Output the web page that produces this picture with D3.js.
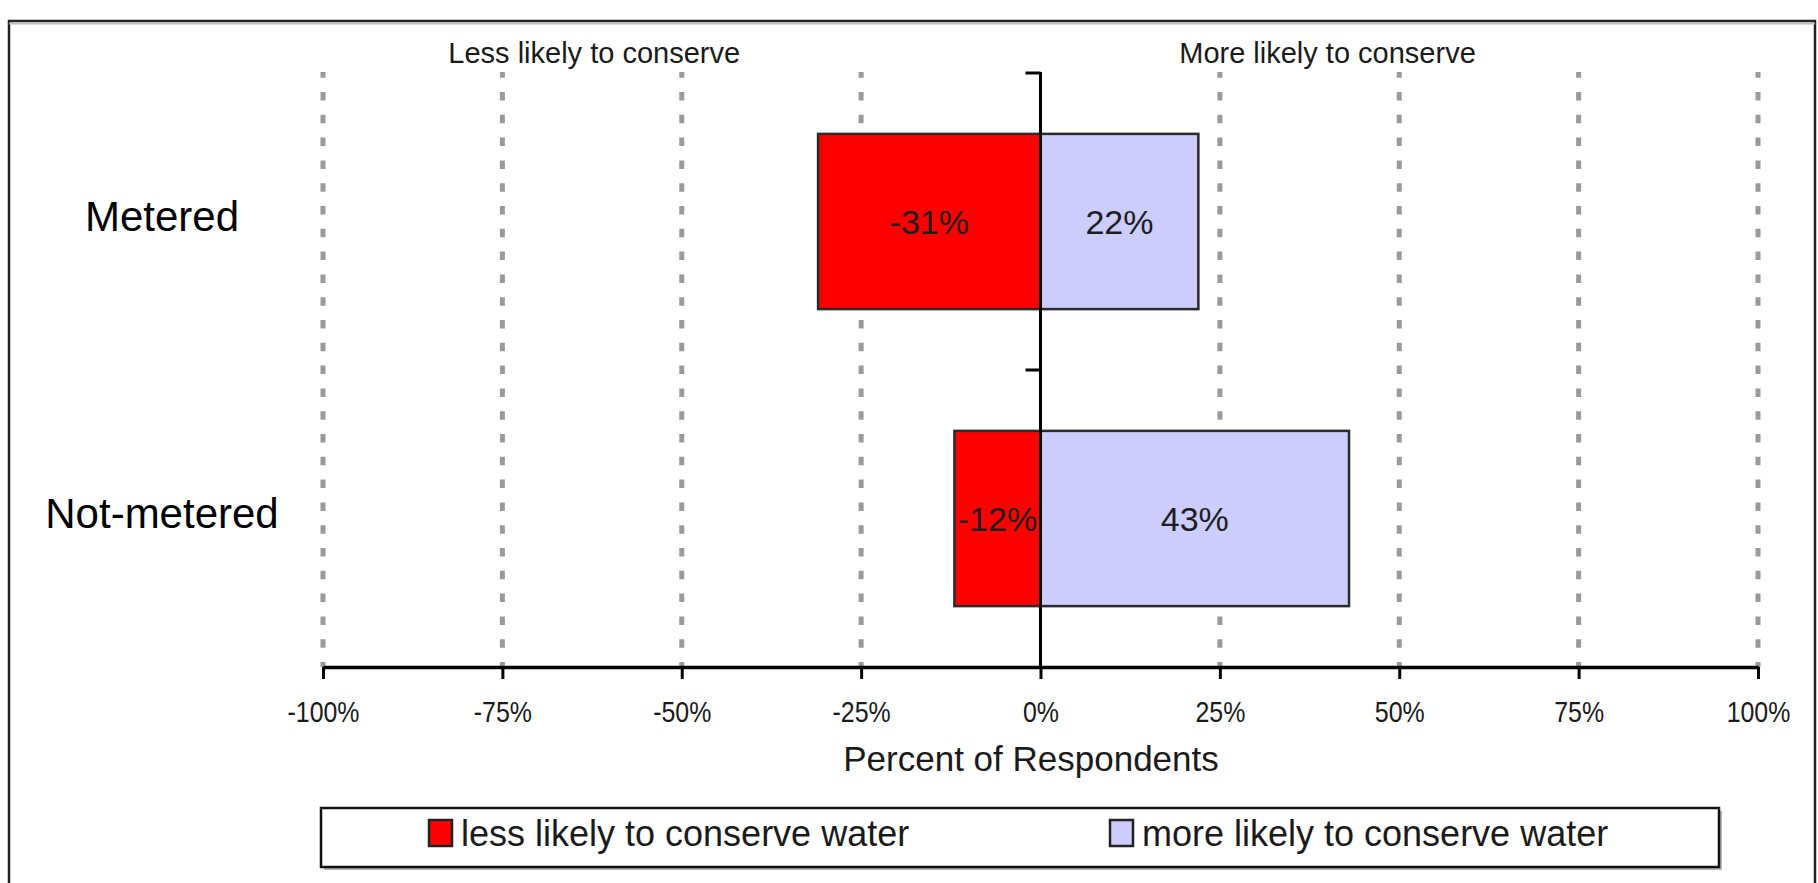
<!DOCTYPE html>
<html>
<head>
<meta charset="utf-8">
<script src="https://cdn.jsdelivr.net/npm/d3@7/dist/d3.min.js"></script>
<style>
  html, body { margin: 0; padding: 0; background: #fff; }
  svg { display: block; }
  .sans { font-family: "Liberation Sans", Arial, Helvetica, sans-serif; }
</style>
</head>
<body>
<svg id="chart" width="1818" height="883"></svg>
<script>
// Survey groups and the share of respondents on each side of the scale
const categories = ["Metered", "Not-metered"];
const lessLikely = [-31, -12];
const moreLikely = [22, 43];
const xTicks = [-100, -75, -50, -25, 0, 25, 50, 75, 100];
const seriesNames = ["less likely to conserve water", "more likely to conserve water"];
const sideHeaders = ["Less likely to conserve", "More likely to conserve"];
const axisTitle = "Percent of Respondents";

const colors = { less: "#ff0000", more: "#ccccff" };

const svg = d3.select("#chart");

// Outer frame
svg.append("rect")
  .attr("x", 9).attr("y", 21)
  .attr("width", 1806).attr("height", 900)
  .attr("fill", "none")
  .attr("stroke", "#222")
  .attr("stroke-width", 2.5);
svg.append("line")
  .attr("x1", 9).attr("x2", 1815).attr("y1", 23.5).attr("y2", 23.5)
  .attr("stroke", "#bbb").attr("stroke-width", 2);

const x = d3.scaleLinear().domain([-100, 100]).range([323, 1758]);
const y = d3.scaleBand()
  .domain(categories)
  .range([73, 667])
  .paddingInner(0.41)
  .paddingOuter(0.205);

const plotTop = 72, plotBottom = 667;

// Dotted vertical gridlines
svg.append("g")
  .selectAll("line")
  .data(xTicks.filter(d => d !== 0))
  .join("line")
  .attr("x1", d => x(d)).attr("x2", d => x(d))
  .attr("y1", plotTop).attr("y2", plotBottom)
  .attr("stroke", "#9a9a9a")
  .attr("stroke-width", 5)
  .attr("stroke-dasharray", "8.5 14.3")
  .attr("stroke-dashoffset", 2.8);

// Side headers above the plot
svg.append("g")
  .selectAll("text")
  .data(sideHeaders)
  .join("text")
  .attr("class", "sans")
  .attr("x", (d, i) => x(i === 0 ? -62.2 : 40))
  .attr("y", 63)
  .attr("text-anchor", "middle")
  .attr("font-size", 29)
  .attr("fill", "#1a1a1a")
  .text(d => d);

// Bars
const rows = [];
categories.forEach((c, i) => {
  rows.push({ cat: c, key: "less", value: lessLikely[i] });
  rows.push({ cat: c, key: "more", value: moreLikely[i] });
});

svg.append("g")
  .selectAll("rect")
  .data(rows)
  .join("rect")
  .attr("x", d => x(Math.min(0, d.value)))
  .attr("width", d => Math.abs(x(d.value) - x(0)))
  .attr("y", d => y(d.cat))
  .attr("height", y.bandwidth())
  .attr("fill", d => colors[d.key])
  .attr("stroke", "#2a2a2a")
  .attr("stroke-width", 2.5);

// Value labels inside bars
svg.append("g")
  .selectAll("text")
  .data(rows)
  .join("text")
  .attr("class", "sans")
  .attr("x", d => (x(d.value) + x(0)) / 2)
  .attr("y", d => y(d.cat) + y.bandwidth() / 2)
  .attr("dy", "0.36em")
  .attr("text-anchor", "middle")
  .attr("font-size", 34)
  .attr("fill", "#1e1e1e")
  .text(d => d.value + "%");

// Category labels on the left
svg.append("g")
  .selectAll("text")
  .data(categories)
  .join("text")
  .attr("class", "sans")
  .attr("x", 162)
  .attr("y", d => y(d) + y.bandwidth() / 2 - 6)
  .attr("dy", "0.36em")
  .attr("text-anchor", "middle")
  .attr("font-size", 42)
  .attr("fill", "#000")
  .text(d => d);

// Zero line with category boundary ticks
const zeroAxis = svg.append("g");
zeroAxis.append("line")
  .attr("x1", x(0)).attr("x2", x(0))
  .attr("y1", plotTop).attr("y2", plotBottom)
  .attr("stroke", "#000").attr("stroke-width", 3);
const boundaries = categories.map(c => y(c) - y.step() * y.paddingInner() / 2);
zeroAxis.selectAll("line.tick")
  .data(boundaries)
  .join("line")
  .attr("class", "tick")
  .attr("x1", x(0) - 15).attr("x2", x(0))
  .attr("y1", d => d).attr("y2", d => d)
  .attr("stroke", "#000").attr("stroke-width", 3);

// Bottom percentage axis
const xAxis = svg.append("g")
  .attr("transform", `translate(0,${plotBottom})`)
  .call(d3.axisBottom(x)
    .tickValues(xTicks)
    .tickFormat(d => d + "%")
    .tickSize(12)
    .tickSizeOuter(0)
    .tickPadding(22));
xAxis.select(".domain").attr("stroke", "#000").attr("stroke-width", 3.5);
xAxis.selectAll(".tick line").attr("stroke", "#000").attr("stroke-width", 3);
// condensed tick labels
xAxis.selectAll(".tick text")
  .attr("class", "sans")
  .attr("font-size", 29)
  .attr("fill", "#1a1a1a")
  .attr("transform", "scale(0.86,1)");

svg.append("text")
  .attr("class", "sans")
  .attr("x", 1031)
  .attr("y", 771)
  .attr("text-anchor", "middle")
  .attr("font-size", 35)
  .attr("fill", "#1a1a1a")
  .text(axisTitle);

// Legend
const legend = svg.append("g");
legend.append("rect")
  .attr("x", 324).attr("y", 811)
  .attr("width", 1398).attr("height", 59)
  .attr("fill", "#b5b5b5");
legend.append("rect")
  .attr("x", 321).attr("y", 808)
  .attr("width", 1398).attr("height", 59)
  .attr("fill", "#fff")
  .attr("stroke", "#111")
  .attr("stroke-width", 2.5);

const legendItems = [
  { key: "less", label: seriesNames[0], x: 429 },
  { key: "more", label: seriesNames[1], x: 1110 }
];
const li = legend.selectAll("g.item")
  .data(legendItems)
  .join("g")
  .attr("class", "item")
  .attr("transform", d => `translate(${d.x},0)`);
li.append("rect")
  .attr("x", 0).attr("y", 820)
  .attr("width", 23).attr("height", 26)
  .attr("fill", d => colors[d.key])
  .attr("stroke", "#222")
  .attr("stroke-width", 2.5);
li.append("text")
  .attr("class", "sans")
  .attr("x", 32)
  .attr("y", 846)
  .attr("font-size", 36)
  .attr("fill", "#1a1a1a")
  .text(d => d.label);
</script>
</body>
</html>
